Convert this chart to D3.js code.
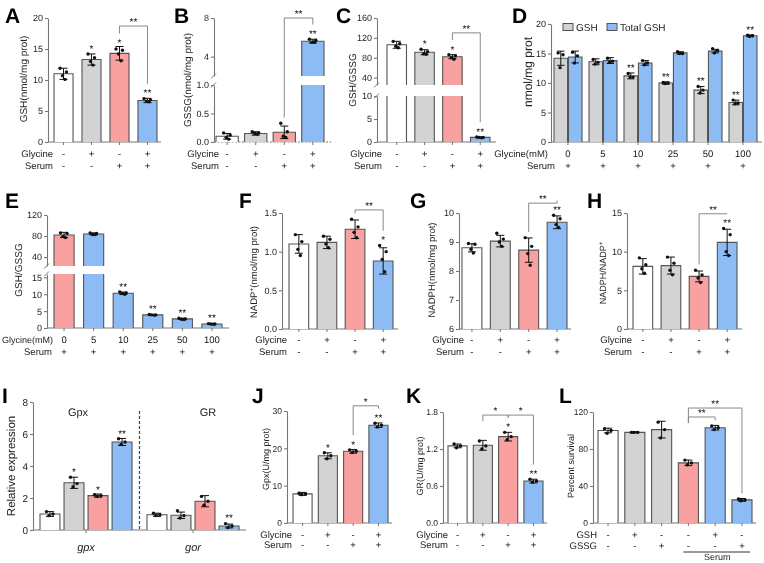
<!DOCTYPE html>
<html>
<head>
<meta charset="utf-8">
<script src="https://cdn.jsdelivr.net/npm/d3@7"></script>
<style>
  body { margin: 0; background: #fff; }
  svg { will-change: transform; text-rendering: geometricPrecision; }
  text { font-family: Arial, "Liberation Sans", sans-serif; fill: #222; }
</style>
</head>
<body>
<svg width="764" height="563"></svg>
<script>
var svg = d3.select('svg');
var W = '#ffffff', G = '#d3d3d3', R = '#f9a1a1', B = '#8dbbf4';
var ink = '#555', axc = '#777';
var FONT = 'Arial, Liberation Sans, sans-serif';

// shared row labels
var glyc4 = ['-', '+', '-', '+'];
var serum4 = ['-', '-', '+', '+'];
var plus6 = ['+', '+', '+', '+', '+', '+'];
var fill4 = [W, G, R, B];

// A  GSH
var aMean = [11.0, 13.3, 14.3, 6.7];
var aSd = [0.9, 0.9, 1.1, 0.35];
var aPts = [[11.9, 11.3, 10.7, 10.1], [14.2, 13.6, 13.0, 12.4], [15.0, 14.8, 14.2, 13.1], [7.0, 6.8, 6.6, 6.5]];
var aStar = ['', '*', '*', '**'];

// B  GSSG
var bMean = [0.10, 0.15, 0.17, 5.6];
var bSd = [0.05, 0.03, 0.11, 0.2];
var bPts = [[0.16, 0.12, 0.08, 0.05], [0.18, 0.16, 0.15, 0.14], [0.33, 0.18, 0.10, 0.08], [5.8, 5.7, 5.5, 5.5]];
var bStar = ['', '', '', '**'];

// C  GSH/GSSG
var cMean = [106, 91, 82, 1.0];
var cSd = [7, 5, 4, 0.1];
var cPts = [[113, 108, 103, 100], [97, 92, 88, 87], [86, 84, 80, 77], [1.1, 1.0, 1.0, 0.9]];
var cStar = ['', '*', '*', '**'];

// D  GSH / Total GSH by glycine dose
var dLevels = ['0', '5', '10', '25', '50', '100'];
var dGsh = [14.2, 13.6, 11.2, 10.0, 8.8, 6.7];
var dGshSd = [1.2, 0.5, 0.5, 0.2, 0.6, 0.4];
var dGshPts = [[15.1, 14.8, 12.6], [14.0, 13.5, 13.2], [11.6, 11.0, 11.0], [10.1, 10.0, 9.9], [9.4, 8.8, 8.3], [7.1, 6.6, 6.5]];
var dGshStar = ['', '', '**', '**', '**', '**'];
var dTot = [14.4, 13.8, 13.4, 15.1, 15.4, 18.0];
var dTotSd = [1.0, 0.5, 0.4, 0.2, 0.3, 0.15];
var dTotPts = [[15.2, 14.6, 13.4], [14.2, 13.7, 13.5], [13.8, 13.4, 13.1], [15.3, 15.0, 15.0], [15.8, 15.5, 15.1], [18.1, 18.0, 17.9]];
var dTotStar = ['', '', '', '', '', '**'];

// E  GSH/GSSG by glycine dose
var eLevels = ['0', '5', '10', '25', '50', '100'];
var eMean = [82, 84, 10.3, 3.9, 2.7, 1.2];
var eSd = [5, 2, 0.35, 0.1, 0.2, 0.1];
var ePts = [[86, 85, 79, 77], [86, 85, 83, 83], [10.7, 10.4, 10.2, 10.0], [4.0, 3.9, 3.9, 3.8], [2.9, 2.7, 2.6, 2.5], [1.3, 1.2, 1.2, 1.1]];
var eStar = ['', '', '**', '**', '**', '**'];
var eFill = [R, B, B, B, B, B];

// F  NADP+
var fMean = [1.10, 1.12, 1.29, 0.88];
var fSd = [0.12, 0.08, 0.12, 0.17];
var fPts = [[1.22, 1.13, 1.03, 0.95], [1.20, 1.16, 1.10, 1.05], [1.42, 1.32, 1.25, 1.18], [1.08, 1.00, 0.90, 0.74]];
var fStar = ['', '', '', '*'];

// G  NADPH
var gMean = [8.80, 9.03, 8.72, 9.68];
var gSd = [0.14, 0.20, 0.42, 0.22];
var gPts = [[8.95, 8.92, 8.75, 8.62], [9.30, 9.10, 9.00, 8.85], [9.15, 8.85, 8.60, 8.20], [9.92, 9.80, 9.60, 9.50]];
var gStar = ['', '', '', '**'];

// H  NADPH/NADP+
var hMean = [8.1, 8.2, 6.8, 11.2];
var hSd = [1.0, 1.1, 0.7, 1.7];
var hPts = [[9.2, 8.3, 7.8, 7.2], [9.3, 8.5, 7.6, 7.0], [7.6, 7.0, 6.6, 6.0], [13.0, 12.2, 10.0, 9.5]];
var hStar = ['', '', '', '**'];

// I  relative expression
var iGenes = ['gpx', 'gor'];
var iTitles = ['Gpx', 'GR'];
var iMean = [[1.0, 2.95, 2.15, 5.5], [0.95, 0.92, 1.8, 0.25]];
var iSd = [[0.15, 0.35, 0.1, 0.22], [0.1, 0.2, 0.35, 0.12]];
var iPts = [[[1.15, 1.0, 0.9], [3.3, 2.9, 2.7], [2.2, 2.15, 2.1], [5.7, 5.5, 5.35]],
            [[1.05, 0.95, 0.9], [1.2, 0.9, 0.75], [2.1, 1.8, 1.55], [0.4, 0.25, 0.15]]];
var iStar = [['', '*', '*', '**'], ['', '', '', '**']];

// J  Gpx activity
var jMean = [7.8, 18.0, 19.2, 26.2];
var jSd = [0.4, 0.8, 0.5, 0.6];
var jPts = [[8.0, 7.8, 7.6], [18.8, 18.0, 17.2], [19.6, 19.2, 18.9], [26.7, 26.2, 25.7]];
var jStar = ['', '*', '*', '**'];

// K  GR activity
var kMean = [1.25, 1.26, 1.40, 0.68];
var kSd = [0.03, 0.08, 0.07, 0.03];
var kPts = [[1.28, 1.25, 1.22], [1.33, 1.25, 1.20], [1.47, 1.40, 1.35], [0.71, 0.68, 0.66]];
var kStar = ['', '', '*', '**'];

// L  survival
var lMean = [100, 98, 101, 65, 103, 25];
var lSd = [2.5, 0.8, 9, 3, 2.5, 1.5];
var lPts = [[102, 100, 97], [98, 98, 98], [109, 101, 92], [68, 65, 63], [105, 103, 101], [26, 25, 24]];
var lStar = ['', '', '', '', '', ''];
var lFill = [W, G, G, R, B, B];
var lGsh = ['-', '+', '-', '-', '+', '-'];
var lGssg = ['-', '-', '+', '-', '-', '+'];

var offs = [-3.5, 3, -1, 1.5];

function simple(n, range, pad, mean, sd, pts, fills, stars) {
  var xb = d3.scaleBand().domain(d3.range(n)).range(range).paddingInner(pad);
  var items = mean.map(function(m, i) {
    return {x: xb(i), w: xb.bandwidth(), m: m, sd: sd[i], pts: pts[i], fill: fills[i], star: stars[i]};
  });
  return {xs: xb, items: items, centers: items.map(function(d) { return d.x + d.w / 2; })};
}

function drawPanel(p) {
  var g = svg.append('g');
  var segs = p.segs;
  segs.forEach(function(s) { s.sc = d3.scaleLinear().domain(s.d).range(s.r); });
  var last = segs.length - 1;
  function y(v) {
    for (var i = 0; i < last; i++) if (v <= segs[i].d[1]) return segs[i].sc(v);
    return segs[last].sc(v);
  }
  var base = segs[0].d[0];

  // y axis, one piece per segment
  segs.forEach(function(s) {
    var ax = g.append('g').attr('transform', 'translate(' + p.axisX + ',0)')
      .call(d3.axisLeft(s.sc).tickValues(s.ticks).tickSize(3).tickSizeOuter(0).tickPadding(2)
        .tickFormat(d3.format(s.fmt || '')));
    ax.attr('font-size', p.tickSize || 9).attr('font-family', FONT);
    ax.selectAll('.domain, .tick line').attr('stroke', axc).attr('stroke-width', 1.1);
    ax.selectAll('.tick text').attr('fill', '#333');
  });
  for (var i = 0; i < last; i++) {
    [segs[i].r[1], segs[i + 1].r[0]].forEach(function(yy) {
      g.append('line').attr('x1', p.axisX - 3).attr('x2', p.axisX + 2)
        .attr('y1', yy + 2.5).attr('y2', yy - 2.5).attr('stroke', axc).attr('stroke-width', 1);
    });
  }

  // baseline and x ticks
  g.append('line').attr('x1', p.axisX).attr('x2', p.end).attr('y1', y(base)).attr('y2', y(base))
    .attr('stroke', axc).attr('stroke-width', 1.1).attr('stroke-dasharray', p.dashBase ? '2,1.5' : null);
  var xa = g.append('g').attr('transform', 'translate(0,' + y(base) + ')')
    .call(d3.axisBottom(p.xs).tickSize(3).tickFormat(''));
  xa.select('.domain').remove();
  xa.selectAll('.tick line').attr('stroke', axc);

  // bars (one piece per axis segment)
  p.items.forEach(function(it) {
    segs.forEach(function(s, si) {
      var lo = s.d[0];
      if (it.m <= lo) return;
      var hi = si === last ? it.m : Math.min(it.m, s.d[1]);
      var yt = s.sc(hi), yb = s.sc(lo);
      g.append('rect').attr('x', it.x).attr('y', yt).attr('width', it.w).attr('height', yb - yt)
        .attr('fill', it.fill);
      var x2 = it.x + it.w;
      var d = 'M' + it.x + ',' + yb + 'V' + yt + (hi === it.m ? 'H' + x2 : 'M' + x2 + ',' + yt) + 'V' + yb;
      g.append('path').attr('d', d).attr('fill', 'none').attr('stroke', ink).attr('stroke-width', 1.1);
    });
  });

  // error bars, dots, stars
  p.items.forEach(function(it) {
    var cx = it.x + it.w / 2, cw = Math.min(8, it.w * 0.55);
    var t = y(it.m + it.sd), b = y(Math.max(it.m - it.sd, base));
    g.append('path')
      .attr('d', 'M' + cx + ',' + t + 'V' + b + 'M' + (cx - cw / 2) + ',' + t + 'h' + cw + 'M' + (cx - cw / 2) + ',' + b + 'h' + cw)
      .attr('fill', 'none').attr('stroke', '#111').attr('stroke-width', 1);
    g.selectAll(null).data(it.pts).enter().append('circle')
      .attr('cx', function(v, j) { return cx + offs[j % offs.length] * Math.min(1, it.w / 18); })
      .attr('cy', function(v) { return y(v); })
      .attr('r', 1.7).attr('fill', '#111');
    var top = Math.min(t, d3.min(it.pts, function(v) { return y(v); }) - 1.7) - 2;
    if (it.star) {
      g.append('text').attr('x', cx).attr('y', top + 1.5).attr('text-anchor', 'middle')
        .attr('font-size', 10).style('fill', '#111').text(it.star);
      top -= 9;
    }
    it.cx = cx;
    it.ann = top;
  });

  // significance brackets
  (p.brackets || []).forEach(function(br) {
    var A = p.items[br.a], Bb = p.items[br.b], lv = y(br.v);
    var ya = br.la !== undefined ? y(br.la) : A.ann - 2;
    var yb = br.lb !== undefined ? y(br.lb) : Bb.ann - 2;
    g.append('path').attr('d', 'M' + A.cx + ',' + ya + 'V' + lv + 'H' + Bb.cx + 'V' + yb)
      .attr('fill', 'none').attr('stroke', '#888').attr('stroke-width', 1);
    g.append('text').attr('x', (A.cx + Bb.cx) / 2).attr('y', lv - 1).attr('text-anchor', 'middle')
      .attr('font-size', 10).style('fill', '#111').text(br.t);
  });

  // condition rows under the axis
  (p.rows || []).forEach(function(r) {
    g.append('text').attr('x', r.x !== undefined ? r.x : p.axisX + 5).attr('y', r.y)
      .attr('text-anchor', 'end').attr('font-size', r.fs || 9.5).text(r.n);
    r.v.forEach(function(v, i) {
      g.append('text').attr('x', p.centers[i]).attr('y', r.y).attr('text-anchor', 'middle')
        .attr('font-size', 9.5).style('fill', '#111').text(v);
    });
  });

  // y label
  var yl = g.append('text').attr('transform', 'translate(' + p.ylx + ',' + p.yly + ') rotate(-90)')
    .attr('text-anchor', 'middle').attr('dy', '0.35em').attr('font-size', p.ylsize || 9.5);
  p.ylab.forEach(function(part) {
    if (typeof part === 'string') yl.append('tspan').text(part);
    else yl.append('tspan').attr('baseline-shift', 'super').attr('font-size', '0.7em').text(part.sup);
  });

  // panel letter
  svg.append('text').attr('x', p.lx).attr('y', p.ly).attr('font-size', 21).attr('font-weight', 'bold')
    .style('fill', '#000').text(p.letter);
  return {g: g, y: y};
}

// ---- A
var pa = simple(4, [54, 157], 0.32, aMean, aSd, aPts, fill4, aStar);
drawPanel({letter: 'A', lx: 5, ly: 23, axisX: 48, end: 161, xs: pa.xs, items: pa.items, centers: pa.centers,
  segs: [{d: [0, 20], r: [142, 18], ticks: [0, 5, 10, 15, 20]}],
  ylab: ['GSH(nmol/mg prot)'], ylx: 23, yly: 79, ylsize: 10,
  rows: [{n: 'Glycine', v: glyc4, y: 157}, {n: 'Serum', v: serum4, y: 169}],
  brackets: [{a: 2, b: 3, v: 18.7, t: '**'}]});

// ---- B
var pb = simple(4, [216, 324], 0.22, bMean, bSd, bPts, fill4, bStar);
drawPanel({letter: 'B', lx: 174, ly: 23, axisX: 214, end: 331, xs: pb.xs, items: pb.items, centers: pb.centers,
  segs: [{d: [0, 1], r: [142, 85], ticks: [0, 0.5, 1], fmt: '.1f'}, {d: [2, 8], r: [76, 18], ticks: [4, 8]}],
  dashBase: true,
  ylab: ['GSSG(nmol/mg prot)'], ylx: 187, yly: 80, ylsize: 10,
  rows: [{n: 'Glycine', v: glyc4, y: 157}, {n: 'Serum', v: serum4, y: 169}],
  brackets: [{a: 2, b: 3, v: 8.0, t: '**'}]});

// ---- C
var pc = simple(4, [387, 490], 0.3, cMean, cSd, cPts, fill4, cStar);
drawPanel({letter: 'C', lx: 336, ly: 23, axisX: 377, end: 496, xs: pc.xs, items: pc.items, centers: pc.centers,
  segs: [{d: [0, 10], r: [142, 96], ticks: [0, 5, 10]}, {d: [25, 160], r: [85, 18], ticks: [40, 80, 120, 160]}],
  ylab: ['GSH/GSSG'], ylx: 352, yly: 80, ylsize: 10,
  rows: [{n: 'Glycine', v: glyc4, y: 157}, {n: 'Serum', v: serum4, y: 169}],
  brackets: [{a: 2, b: 3, v: 130, t: '**'}]});

// ---- D (grouped)
var dOuter = d3.scaleBand().domain(d3.range(6)).range([554, 757]).paddingInner(0.2);
var dInner = d3.scaleBand().domain([0, 1]).range([0, dOuter.bandwidth()]).paddingInner(0.06);
var dItems = [];
dLevels.forEach(function(lv, i) {
  dItems.push({x: dOuter(i) + dInner(0), w: dInner.bandwidth(), m: dGsh[i], sd: dGshSd[i], pts: dGshPts[i], fill: G, star: dGshStar[i]});
  dItems.push({x: dOuter(i) + dInner(1), w: dInner.bandwidth(), m: dTot[i], sd: dTotSd[i], pts: dTotPts[i], fill: B, star: dTotStar[i]});
});
var pd = drawPanel({letter: 'D', lx: 512, ly: 23, axisX: 551, end: 762, xs: dOuter, items: dItems,
  centers: dLevels.map(function(d, i) { return dOuter(i) + dOuter.bandwidth() / 2; }),
  segs: [{d: [0, 20], r: [142, 24], ticks: [0, 5, 10, 15, 20]}],
  ylab: ['nmol/mg prot'], ylx: 528, yly: 72, ylsize: 12,
  rows: [{n: 'Glycine(mM)', v: dLevels, y: 157, x: 548}, {n: 'Serum', v: plus6, y: 169, x: 555}]});
var dLegend = [{t: 'GSH', c: G, x: 563}, {t: 'Total GSH', c: B, x: 607}];
dLegend.forEach(function(l) {
  pd.g.append('rect').attr('x', l.x).attr('y', 23.5).attr('width', 10).attr('height', 7)
    .attr('fill', l.c).attr('stroke', ink).attr('stroke-width', 1);
  pd.g.append('text').attr('x', l.x + 13).attr('y', 31).attr('font-size', 10).text(l.t);
});

// ---- E
var pe = simple(6, [54, 222], 0.32, eMean, eSd, ePts, eFill, eStar);
drawPanel({letter: 'E', lx: 5, ly: 208, axisX: 47, end: 229, xs: pe.xs, items: pe.items, centers: pe.centers,
  segs: [{d: [0, 16], r: [328, 274], ticks: [0, 5, 10, 15]}, {d: [23, 120], r: [266, 215], ticks: [40, 80, 120]}],
  ylab: ['GSH/GSSG'], ylx: 18, yly: 270, ylsize: 10,
  rows: [{n: 'Glycine(mM)', v: eLevels, y: 343, x: 53, fs: 9}, {n: 'Serum', v: plus6, y: 355, x: 52}]});

// ---- F
var pf = simple(4, [289, 393], 0.3, fMean, fSd, fPts, fill4, fStar);
drawPanel({letter: 'F', lx: 239, ly: 208, axisX: 282, end: 398, xs: pf.xs, items: pf.items, centers: pf.centers,
  segs: [{d: [0, 1.5], r: [329, 213], ticks: [0, 0.5, 1, 1.5], fmt: '.1f'}],
  ylab: ['NADP', {sup: '+'}, '(nmol/mg prot)'], ylx: 254, yly: 272, ylsize: 9.5,
  rows: [{n: 'Glycine', v: glyc4, y: 343}, {n: 'Serum', v: serum4, y: 354.5}],
  brackets: [{a: 2, b: 3, v: 1.54, t: '**'}]});

// ---- G
var pg = simple(4, [462, 567], 0.3, gMean, gSd, gPts, fill4, gStar);
drawPanel({letter: 'G', lx: 410, ly: 208, axisX: 459, end: 571, xs: pg.xs, items: pg.items, centers: pg.centers,
  segs: [{d: [6, 10], r: [329, 213], ticks: [6, 7, 8, 9, 10]}],
  ylab: ['NADPH(nmol/mg prot)'], ylx: 432, yly: 270, ylsize: 9.5,
  rows: [{n: 'Glycine', v: glyc4, y: 343}, {n: 'Serum', v: serum4, y: 354.5}],
  brackets: [{a: 2, b: 3, v: 10.34, t: '**'}]});

// ---- H
var ph = simple(4, [633, 737], 0.3, hMean, hSd, hPts, fill4, hStar);
drawPanel({letter: 'H', lx: 587, ly: 208, axisX: 627, end: 742, xs: ph.xs, items: ph.items, centers: ph.centers,
  segs: [{d: [0, 15], r: [329, 213], ticks: [0, 5, 10, 15]}],
  ylab: ['NADPH/NADP', {sup: '+'}], ylx: 603, yly: 273, ylsize: 9,
  rows: [{n: 'Glycine', v: glyc4, y: 343}, {n: 'Serum', v: serum4, y: 354.5}],
  brackets: [{a: 2, b: 3, v: 14.9, t: '**'}]});

// ---- I (grouped by gene)
var iOuter = d3.scaleBand().domain(d3.range(2)).range([40, 239]).paddingInner(0.14);
var iInner = d3.scaleBand().domain(d3.range(4)).range([0, iOuter.bandwidth()]).paddingInner(0.17);
var iItems = [];
iGenes.forEach(function(gn, gi) {
  iMean[gi].forEach(function(m, k) {
    iItems.push({x: iOuter(gi) + iInner(k), w: iInner.bandwidth(), m: m, sd: iSd[gi][k], pts: iPts[gi][k], fill: fill4[k], star: iStar[gi][k]});
  });
});
var pi = drawPanel({letter: 'I', lx: 2, ly: 403, axisX: 33, end: 246, xs: iOuter, items: iItems, centers: [],
  segs: [{d: [0, 8], r: [530, 402], ticks: [0, 2, 4, 6, 8]}], tickSize: 10,
  ylab: ['Relative expression'], ylx: 11, yly: 466, ylsize: 11.5});
iGenes.forEach(function(gn, gi) {
  var cx = iOuter(gi) + iOuter.bandwidth() / 2;
  pi.g.append('text').attr('x', cx).attr('y', 551).attr('text-anchor', 'middle')
    .attr('font-size', 11).attr('font-style', 'italic').text(gn);
  pi.g.append('text').attr('x', cx + (gi === 0 ? -8 : 15)).attr('y', 416).attr('text-anchor', 'middle')
    .attr('font-size', 11).text(iTitles[gi]);
});
var iSplit = (iOuter(0) + iOuter.bandwidth() + iOuter(1)) / 2;
pi.g.append('line').attr('x1', iSplit).attr('x2', iSplit).attr('y1', 411).attr('y2', 530)
  .attr('stroke', '#444').attr('stroke-width', 1.2).attr('stroke-dasharray', '3,2');

// ---- J
var pj = simple(4, [293, 388], 0.245, jMean, jSd, jPts, fill4, jStar);
drawPanel({letter: 'J', lx: 252, ly: 403, axisX: 287, end: 392, xs: pj.xs, items: pj.items, centers: pj.centers,
  segs: [{d: [0, 30], r: [523, 411], ticks: [0, 10, 20, 30]}], tickSize: 8.5,
  ylab: ['Gpx(U/mg prot)'], ylx: 266, yly: 459, ylsize: 9,
  rows: [{n: 'Glycine', v: glyc4, y: 537.5}, {n: 'Serum', v: serum4, y: 548}],
  brackets: [{a: 2, b: 3, v: 31.4, t: '*'}]});

// ---- K
var pk = simple(4, [448, 543], 0.245, kMean, kSd, kPts, fill4, kStar);
drawPanel({letter: 'K', lx: 406, ly: 403, axisX: 443, end: 547, xs: pk.xs, items: pk.items, centers: pk.centers,
  segs: [{d: [0, 1.8], r: [523, 412], ticks: [0, 0.6, 1.2, 1.8], fmt: '.1f'}], tickSize: 8.5,
  ylab: ['GR(U/mg prot)'], ylx: 420, yly: 466, ylsize: 9,
  rows: [{n: 'Glycine', v: glyc4, y: 537.5}, {n: 'Serum', v: serum4, y: 548}],
  brackets: [{a: 1, b: 2, v: 1.75, t: '*', la: 1.65}, {a: 2, b: 3, v: 1.75, t: '*'}]});

// ---- L
var pl = simple(6, [598, 752], 0.25, lMean, lSd, lPts, lFill, lStar);
var pL = drawPanel({letter: 'L', lx: 559, ly: 403, axisX: 593, end: 756, xs: pl.xs, items: pl.items, centers: pl.centers,
  segs: [{d: [0, 120], r: [523, 412], ticks: [0, 40, 80, 120]}], tickSize: 8.5,
  ylab: ['Percent survival'], ylx: 571, yly: 466, ylsize: 9,
  rows: [{n: 'GSH', v: lGsh, y: 537.5, x: 597}, {n: 'GSSG', v: lGssg, y: 549, x: 597}],
  brackets: [{a: 3, b: 4, v: 114.6, t: '**', la: 108}, {a: 3, b: 5, v: 124.3, t: '**', la: 108}]});
pL.g.append('line').attr('x1', pl.items[3].x + 5).attr('x2', pl.items[5].x + pl.items[5].w - 2)
  .attr('y1', 552).attr('y2', 552).attr('stroke', '#333').attr('stroke-width', 1);
pL.g.append('text').attr('x', (pl.items[3].x + pl.items[5].x + pl.items[5].w) / 2 + 2).attr('y', 560)
  .attr('text-anchor', 'middle').attr('font-size', 9).text('Serum');
</script>
</body>
</html>
